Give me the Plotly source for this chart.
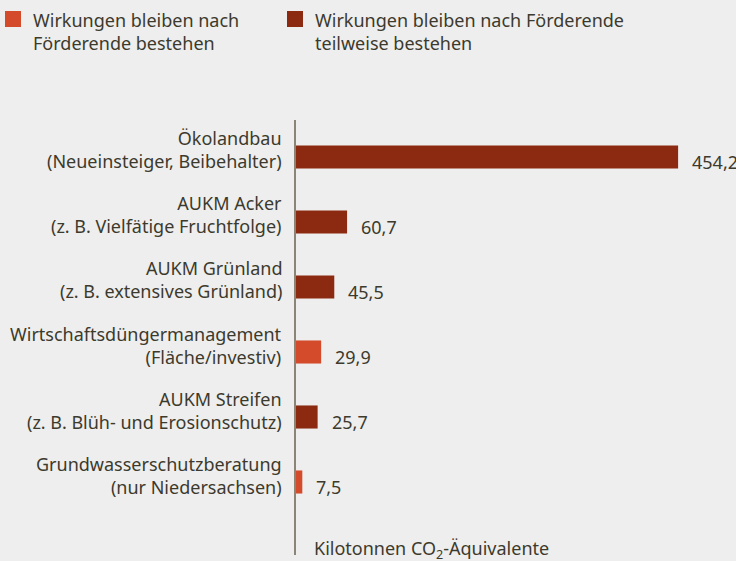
import plotly.graph_objects as go

categories = [
    "Ökolandbau<br>(Neueinsteiger, Beibehalter)",
    "AUKM Acker<br>(z. B. Vielfätige Fruchtfolge)",
    "AUKM Grünland<br>(z. B. extensives Grünland)",
    "Wirtschaftsdüngermanagement<br>(Fläche/investiv)",
    "AUKM Streifen<br>(z. B. Blüh- und Erosionschutz)",
    "Grundwasserschutzberatung<br>(nur Niedersachsen)",
]
values = [454.2, 60.7, 45.5, 29.9, 25.7, 7.5]
# 1 = Wirkungen bleiben nach Förderende bestehen, 2 = ... teilweise bestehen
group = [2, 2, 2, 1, 2, 1]
series_names = [
    "Wirkungen bleiben nach<br>Förderende bestehen",
    "Wirkungen bleiben nach Förderende<br>teilweise bestehen",
]
series_colors = ["#d44b2c", "#8b2a11"]
axis_title = "Kilotonnen CO<sub>2</sub>-Äquivalente"

FONT = "Noto Sans"
FS = 18
TXT = "#3c3a2d"
BG = "#eeeeee"

W, H = 736, 561
L, R, T, B = 296, 0, 120, 6
PW, PH = W - L - R, H - T - B


def px_x(px):
    return (px - L) / PW


def px_y(py):
    return (H - B - py) / PH


idx = list(range(len(categories)))
fig = go.Figure()
for g in (1, 2):
    fig.add_trace(go.Bar(
        y=idx,
        x=[v if gg == g else None for v, gg in zip(values, group)],
        orientation="h",
        width=0.355,
        marker=dict(color=series_colors[g - 1], line=dict(width=0)),
        name=series_names[g - 1],
        showlegend=False,
        hoverinfo="x",
    ))

ann = []
for i, (c, v) in enumerate(zip(categories, values)):
    ann.append(dict(x=0, y=i, xref="paper", yref="y", text=c, showarrow=False,
                    xanchor="right", yanchor="middle", align="right",
                    xshift=-12, yshift=7, font=dict(family=FONT, size=FS, color=TXT)))
    ann.append(dict(x=v, y=i, xref="x", yref="y", text=f"{v:.1f}".replace(".", ","),
                    showarrow=False, xanchor="left", yanchor="middle",
                    xshift=12, yshift=-5, font=dict(family=FONT, size=FS, color=TXT)))

ann.append(dict(x=px_x(312), y=px_y(549), xref="paper", yref="paper", text=axis_title,
                showarrow=False, xanchor="left", yanchor="middle",
                font=dict(family=FONT, size=FS, color=TXT)))

# legend (manual)
shapes = []
leg_x = [5, 287]
for k in range(2):
    shapes.append(dict(type="rect", xref="paper", yref="paper",
                       x0=px_x(leg_x[k]), x1=px_x(leg_x[k] + 16),
                       y0=px_y(27), y1=px_y(11),
                       fillcolor=series_colors[k], line=dict(width=0)))
    ann.append(dict(x=px_x(leg_x[k] + 26), y=px_y(6),
                    xref="paper", yref="paper", text=series_names[k], showarrow=False,
                    xanchor="left", yanchor="top", align="left",
                    font=dict(family=FONT, size=FS, color=TXT)))

fig.update_layout(
    width=W, height=H,
    margin=dict(l=L, r=R, t=T, b=B, pad=0),
    paper_bgcolor=BG, plot_bgcolor=BG,
    barmode="overlay",
    showlegend=False,
    xaxis=dict(range=[0, 523], visible=False, fixedrange=True),
    yaxis=dict(range=[6.123, -0.569], showticklabels=False, showgrid=False,
               zeroline=False, showline=True, linecolor="#8a8577", linewidth=2,
               ticks="", fixedrange=True),
    annotations=ann,
    shapes=shapes,
)

fig.write_html("out.html",
               config=dict(displayModeBar=False),
               post_script="document.body.style.margin='0';document.body.style.padding='0';"
                           "document.body.style.overflow='hidden';")
